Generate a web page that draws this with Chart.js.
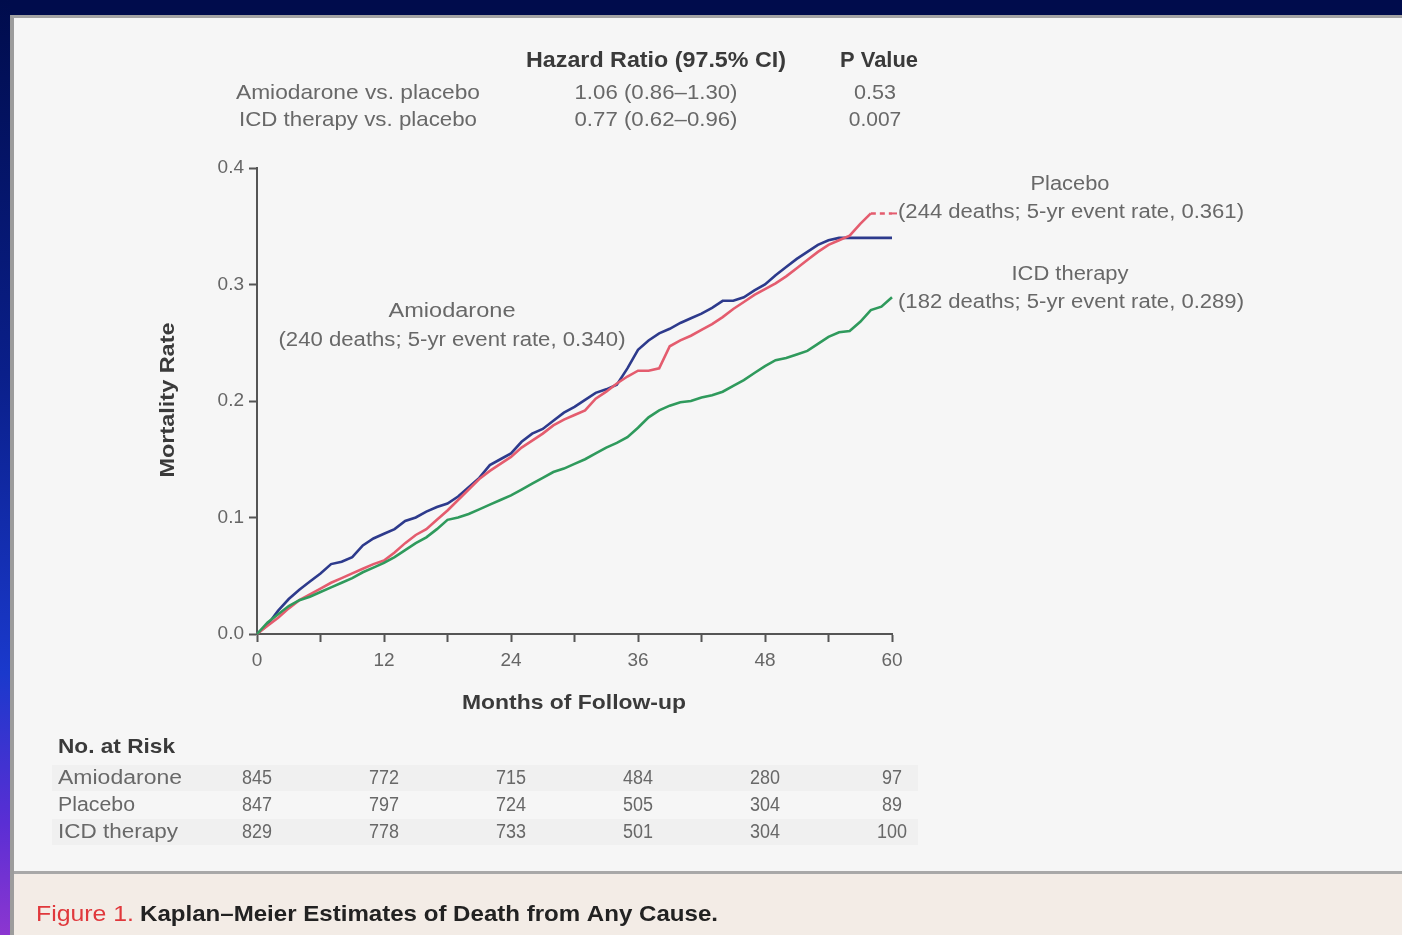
<!DOCTYPE html>
<html>
<head>
<meta charset="utf-8">
<title>Kaplan–Meier Estimates of Death from Any Cause</title>
<script src="https://cdn.jsdelivr.net/npm/chart.js@4.4.1/dist/chart.umd.min.js"></script>
<style>
  html, body { margin: 0; padding: 0; width: 1402px; height: 935px; overflow: hidden; background: #000c4c; }
  #edge { position: absolute; left: 0; top: 0; width: 10px; height: 935px;
          background: linear-gradient(to bottom, #000c4c 0%, #0a1f8a 40%, #1a39cc 72%, #5a2ed4 88%, #8c36d0 100%); }
  #panel { position: absolute; left: 10px; top: 15px; width: 1392px; height: 920px; background: #f6f6f6;
           border-top: 3px solid #a3a3a3; border-left: 4px solid #9c9c9c; box-sizing: border-box; }
  #caption { position: absolute; left: 14px; top: 871px; width: 1388px; height: 64px; background: #f3ece6;
             border-top: 3px solid #a8a8a8; box-sizing: border-box; }
  #chart { position: absolute; left: 0; top: 0; }
</style>
</head>
<body>
<div id="edge"></div>
<div id="panel"></div>
<div id="caption"></div>
<canvas id="chart" width="1402" height="935"></canvas>
<script>
// Follow-up time in months
const months = [0,1,2,3,4,5,6,7,8,9,10,11,12,13,14,15,16,17,18,19,20,
  21,22,23,24,25,26,27,28,29,30,31,32,33,34,35,36,37,38,39,40,
  41,42,43,44,45,46,47,48,49,50,51,52,53,54,55,56,57,58,59,60];

// Cumulative mortality by arm
const amiodaroneRate = [0,0.008,0.020,0.030,0.038,0.045,0.052,0.060,0.062,0.066,0.076,
  0.082,0.086,0.090,0.097,0.100,0.105,0.109,0.112,0.118,0.126,
  0.134,0.145,0.150,0.155,0.165,0.172,0.176,0.183,0.190,0.195,
  0.201,0.207,0.210,0.214,0.228,0.244,0.252,0.258,0.262,0.267,
  0.271,0.275,0.280,0.286,0.286,0.289,0.295,0.300,0.308,0.315,
  0.322,0.328,0.334,0.338,0.340,0.340,0.340,0.340,0.340,0.340];
const placeboRate = [0,0.007,0.014,0.022,0.029,0.034,0.039,0.044,0.048,0.052,0.056,
  0.060,0.063,0.070,0.078,0.085,0.090,0.098,0.106,0.115,0.124,
  0.133,0.140,0.146,0.152,0.160,0.166,0.172,0.179,0.184,0.188,
  0.192,0.202,0.208,0.215,0.221,0.226,0.226,0.228,0.247,0.252,
  0.256,0.261,0.266,0.272,0.279,0.285,0.291,0.296,0.301,0.307,
  0.314,0.321,0.328,0.334,0.338,0.342,0.352,0.361,0.361,0.361];
const icdRate = [0,0.010,0.017,0.024,0.029,0.032,0.036,0.040,0.044,0.048,0.053,
  0.057,0.061,0.066,0.072,0.078,0.083,0.090,0.098,0.100,0.103,
  0.107,0.111,0.115,0.119,0.124,0.129,0.134,0.139,0.142,0.146,
  0.150,0.155,0.160,0.164,0.169,0.177,0.186,0.192,0.196,0.199,
  0.200,0.203,0.205,0.208,0.213,0.218,0.224,0.230,0.235,0.237,
  0.240,0.243,0.249,0.255,0.259,0.260,0.268,0.278,0.281,0.289];

const armNames = ['Amiodarone', 'Placebo', 'ICD therapy'];
const armDeaths = [240, 244, 182];

// Hazard ratio summary
const comparisons = ['Amiodarone vs. placebo', 'ICD therapy vs. placebo'];
const hazardRatios = ['1.06 (0.86–1.30)', '0.77 (0.62–0.96)'];
const pValues = ['0.53', '0.007'];

// Number at risk
const riskMonths = [0, 12, 24, 36, 48, 60];
const riskAmiodarone = [845, 772, 715, 484, 280, 97];
const riskPlacebo = [847, 797, 724, 505, 304, 89];
const riskIcd = [829, 778, 733, 501, 304, 100];

const xTicks = [0, 12, 24, 36, 48, 60];
const yTicks = [0.0, 0.1, 0.2, 0.3, 0.4];

const FONT = '"Liberation Sans", Arial, sans-serif';

function toPoints(rates) { return months.map((m, i) => ({ x: m, y: rates[i] })); }

function drawText(ctx, str, x, y, o) {
  ctx.save();
  ctx.font = (o.weight || 'normal') + ' ' + o.size + 'px ' + FONT;
  ctx.fillStyle = o.color || '#666';
  ctx.textBaseline = 'middle';
  ctx.textAlign = o.align || 'center';
  const w = ctx.measureText(str).width;
  const sx = o.width ? o.width / w : 1;
  ctx.translate(x, y);
  if (o.rotate) ctx.rotate(o.rotate);
  ctx.scale(sx, 1);
  ctx.fillText(str, 0, 0);
  ctx.restore();
}

const lastOf = a => a[a.length - 1];
const fiveYr = [lastOf(amiodaroneRate), lastOf(placeboRate), lastOf(icdRate)];
const rateNote = i => '(' + armDeaths[i] + ' deaths; 5-yr event rate, ' + fiveYr[i].toFixed(3) + ')';

const textPlugin = {
  id: 'figureText',
  beforeDraw(chart) {
    // faint bands behind the number-at-risk rows
    const ctx = chart.ctx;
    ctx.save();
    ctx.fillStyle = '#f0f0f0';
    ctx.fillRect(52, 765, 866, 26);
    ctx.fillRect(52, 819, 866, 26);
    ctx.restore();
  },
  afterDraw(chart) {
    const ctx = chart.ctx;
    const xs = chart.scales.x;
    const ys = chart.scales.y;
    const dark = '#3a3a3a', gray = '#686868';

    // Hazard ratio table
    drawText(ctx, 'Hazard Ratio (97.5% CI)', 656, 61, { size: 22, weight: 'bold', color: dark, width: 260 });
    drawText(ctx, 'P Value', 879, 61, { size: 22, weight: 'bold', color: dark, width: 78 });
    const rowY = [93, 120];
    const cmpW = [244, 238];
    comparisons.forEach((c, i) => {
      drawText(ctx, c, 358, rowY[i], { size: 21, color: gray, width: cmpW[i] });
      drawText(ctx, hazardRatios[i], 656, rowY[i], { size: 21, color: gray, width: 163 });
      drawText(ctx, pValues[i], 875, rowY[i], { size: 21, color: gray, width: pValues[i].length * 10.5 });
    });

    // Axis titles
    drawText(ctx, 'Mortality Rate', 168, 400, { size: 21, weight: 'bold', color: dark, width: 155, rotate: -Math.PI / 2 });
    drawText(ctx, 'Months of Follow-up', 574, 703, { size: 21, weight: 'bold', color: dark, width: 224 });

    // Curve labels
    drawText(ctx, armNames[0], 452, 311, { size: 20, color: gray, width: 127 });
    drawText(ctx, rateNote(0), 452, 340, { size: 20, color: gray, width: 347 });
    drawText(ctx, armNames[1], 1070, 184, { size: 20, color: gray, width: 79 });
    drawText(ctx, rateNote(1), 898, 212, { size: 20, color: gray, align: 'left', width: 346 });
    drawText(ctx, armNames[2], 1070, 274, { size: 20, color: gray, width: 117 });
    drawText(ctx, rateNote(2), 898, 302, { size: 20, color: gray, align: 'left', width: 346 });

    // Leader from the placebo curve to its label
    ctx.save();
    ctx.strokeStyle = '#e45c6e';
    ctx.lineWidth = 2;
    ctx.setLineDash([5, 4]);
    ctx.beginPath();
    ctx.moveTo(xs.getPixelForValue(60), ys.getPixelForValue(lastOf(placeboRate)));
    ctx.lineTo(897, ys.getPixelForValue(lastOf(placeboRate)));
    ctx.stroke();
    ctx.restore();

    // Number at risk
    drawText(ctx, 'No. at Risk', 58, 747, { size: 21, weight: 'bold', color: dark, align: 'left', width: 117 });
    const rows = [riskAmiodarone, riskPlacebo, riskIcd];
    const rowYs = [778, 805, 832];
    const nameW = [124, 77, 120];
    rows.forEach((r, i) => {
      drawText(ctx, armNames[i], 58, rowYs[i], { size: 20, color: gray, align: 'left', width: nameW[i] });
      r.forEach((n, j) => {
        const s = String(n);
        drawText(ctx, s, xs.getPixelForValue(riskMonths[j]), rowYs[i], { size: 20, color: gray, width: s.length * 10 });
      });
    });

    // Caption
    drawText(ctx, 'Figure 1.', 36, 915, { size: 22, color: '#e0383c', align: 'left', width: 98 });
    drawText(ctx, 'Kaplan–Meier Estimates of Death from Any Cause.', 140, 915, { size: 22, weight: 'bold', color: '#222', align: 'left', width: 578 });
  }
};

const axisStyle = {
  border: { display: true, color: '#555', width: 2 },
  grid: { display: true, drawOnChartArea: false, drawTicks: true, tickLength: 8, tickColor: '#555', tickWidth: 2 }
};

new Chart(document.getElementById('chart'), {
  type: 'line',
  data: {
    datasets: [
      { label: armNames[2], data: toPoints(icdRate), borderColor: '#2f9a5c', borderWidth: 2.6 },
      { label: armNames[1], data: toPoints(placeboRate), borderColor: '#e45c6e', borderWidth: 2.6,
        segment: { borderDash: c => (c.p0.parsed.x >= 58 ? [5, 4] : undefined) } },
      { label: armNames[0], data: toPoints(amiodaroneRate), borderColor: '#2d3a8c', borderWidth: 2.6 }
    ]
  },
  options: {
    responsive: false,
    animation: false,
    devicePixelRatio: 1,
    layout: { padding: { left: 197, right: 510, top: 168, bottom: 261 } },
    elements: { point: { radius: 0 }, line: { tension: 0, fill: false } },
    datasets: { line: { clip: 6 } },
    plugins: { legend: { display: false }, tooltip: { enabled: false } },
    scales: {
      x: {
        type: 'linear', min: 0, max: 60,
        afterFit: s => { s.height = 40; },
        afterBuildTicks: s => { s.ticks = [0,6,12,18,24,30,36,42,48,54,60].map(v => ({ value: v })); },
        ticks: { autoSkip: false, maxRotation: 0, padding: 7, color: '#666',
                 font: { family: FONT, size: 19 },
                 callback: v => (xTicks.includes(v) ? String(v) : '') },
        ...axisStyle
      },
      y: {
        type: 'linear', min: 0, max: 0.4,
        afterFit: s => { s.width = 60; },
        afterBuildTicks: s => { s.ticks = yTicks.map(v => ({ value: v })); },
        ticks: { padding: 5, color: '#666', font: { family: FONT, size: 19 },
                 callback: v => Number(v).toFixed(1) },
        ...axisStyle
      }
    }
  },
  plugins: [textPlugin]
});
</script>
</body>
</html>
